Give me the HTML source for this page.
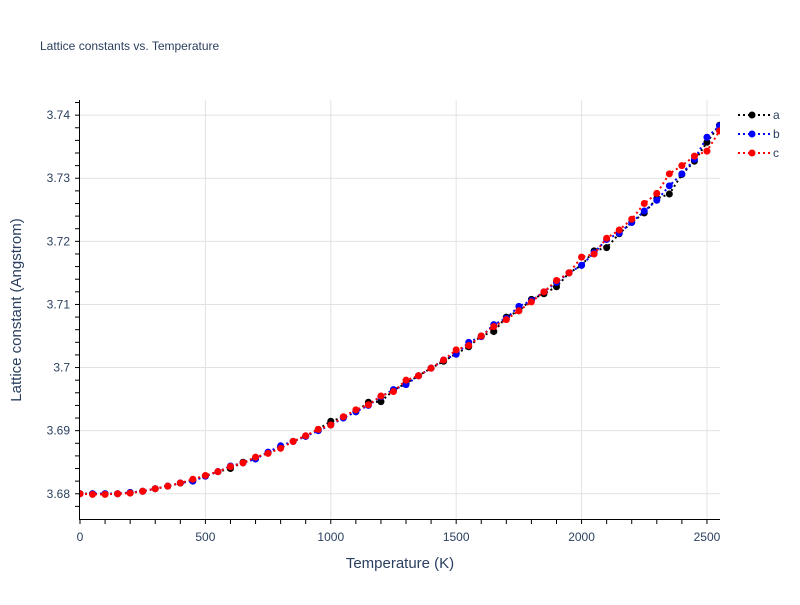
<!DOCTYPE html>
<html><head><meta charset="utf-8"><style>
body{margin:0;background:#fff;}
svg{font-family:"Liberation Sans",Arial,sans-serif;}
</style></head><body>
<svg id="chart" width="800" height="600">
<rect width="800" height="600" fill="#fff"/>
<text x="40" y="50" font-size="12" fill="#2a3f5f">Lattice constants vs. Temperature</text>
<g id="grid"></g>
<g id="axes"></g>
<g id="series"></g>
<g id="legend"></g>
<text x="400" y="568" font-size="15" fill="#2a3f5f" text-anchor="middle">Temperature (K)</text>
<text transform="translate(21,310) rotate(-90)" font-size="15" fill="#2a3f5f" text-anchor="middle">Lattice constant (Angstrom)</text>
</svg>
<script>
const temps = [0,50,100,150,200,250,300,350,400,450,500,550,600,650,700,750,800,850,900,950,1000,1050,1100,1150,1200,1250,1300,1350,1400,1450,1500,1550,1600,1650,1700,1750,1800,1850,1900,1950,2000,2050,2100,2150,2200,2250,2300,2350,2400,2450,2500,2550];
const seriesA = [3.6800,3.6800,3.6800,3.6800,3.6802,3.6804,3.6808,3.6812,3.6817,3.6821,3.6828,3.6835,3.6840,3.6850,3.6856,3.6865,3.6874,3.6883,3.6891,3.6902,3.6915,3.6921,3.6930,3.6945,3.6946,3.6964,3.6975,3.6987,3.6999,3.7010,3.7022,3.7033,3.7050,3.7057,3.7080,3.7090,3.7108,3.7117,3.7128,3.7150,3.7162,3.7185,3.7190,3.7212,3.7230,3.7245,3.7268,3.7275,3.7306,3.7327,3.7357,3.7384];
const seriesB = [3.6800,3.6800,3.6800,3.6800,3.6802,3.6804,3.6808,3.6812,3.6817,3.6820,3.6828,3.6835,3.6844,3.6849,3.6855,3.6866,3.6876,3.6883,3.6891,3.6900,3.6909,3.6920,3.6930,3.6940,3.6954,3.6965,3.6973,3.6987,3.6999,3.7012,3.7021,3.7040,3.7049,3.7068,3.7078,3.7097,3.7106,3.7120,3.7135,3.7150,3.7162,3.7182,3.7203,3.7213,3.7230,3.7248,3.7265,3.7288,3.7307,3.7330,3.7365,3.7383];
const seriesC = [3.6800,3.6799,3.6799,3.6800,3.6801,3.6804,3.6808,3.6812,3.6817,3.6823,3.6829,3.6835,3.6843,3.6849,3.6858,3.6864,3.6872,3.6883,3.6892,3.6902,3.6909,3.6922,3.6933,3.6941,3.6955,3.6962,3.6980,3.6987,3.6999,3.7012,3.7028,3.7035,3.7050,3.7065,3.7076,3.7090,3.7104,3.7120,3.7138,3.7150,3.7175,3.7180,3.7205,3.7218,3.7235,3.7260,3.7276,3.7307,3.7320,3.7335,3.7343,3.7375];
const xTicks = [0,500,1000,1500,2000,2500];
const yTicks = [3.68,3.69,3.70,3.71,3.72,3.73,3.74];
const yTickLabels = ["3.68","3.69","3.7","3.71","3.72","3.73","3.74"];
const seriesNames = ["a","b","c"];
const seriesColors = ["#000000","#0000ff","#ff0000"];

const NS="http://www.w3.org/2000/svg";
const L=80,R=720,T=100,B=519;
const X0=0,X1=2552,Y0=3.6760,Y1=3.7424;
const sx=v=>L+(v-X0)/(X1-X0)*(R-L);
const sy=v=>B-(v-Y0)/(Y1-Y0)*(B-T);
function mk(tag,attrs,parent){const e=document.createElementNS(NS,tag);for(const k in attrs)e.setAttribute(k,attrs[k]);parent.appendChild(e);return e;}
const grid=document.getElementById('grid'),axes=document.getElementById('axes'),ser=document.getElementById('series'),leg=document.getElementById('legend');

xTicks.forEach(t=>{
  if(t>0){const g=mk('line',{x1:sx(t),x2:sx(t),y1:T,y2:B,stroke:'#e2e2e2','stroke-width':1},grid);
  
  }
  const lb=mk('text',{x:sx(t),y:541,'font-size':12,fill:'#2a3f5f','text-anchor':'middle'},axes);
  lb.textContent=t;
  
  
});
for(let t=0;t<=2500;t+=100){mk('line',{x1:sx(t),x2:sx(t),y1:B,y2:B+5,stroke:'#000','stroke-width':1},axes);}
yTicks.forEach((t,i)=>{
  const g=mk('line',{x1:L,x2:R,y1:sy(t),y2:sy(t),stroke:'#e2e2e2','stroke-width':1},grid);
  
  
  const lb=mk('text',{x:70,y:sy(t)+4,'font-size':12,fill:'#2a3f5f','text-anchor':'end'},axes);
  lb.textContent=yTickLabels[i];
  
  
});
for(let k=0;k<=32;k++){const v=3.678+k*0.002;if(v>Y1)break;mk('line',{x1:L-5,x2:L,y1:sy(v),y2:sy(v),stroke:'#000','stroke-width':1},axes);}
const ya=mk('line',{x1:L-0.5,x2:L-0.5,y1:T,y2:B,stroke:'#000','stroke-width':1},axes);


const xa=mk('line',{x1:L-1,x2:R,y1:B+0.5,y2:B+0.5,stroke:'#000','stroke-width':1},axes);



const clip=mk('clipPath',{id:'cp'},mk('defs',{},ser));mk('rect',{x:L,y:T,width:R-L,height:B-T},clip);
const data=[seriesA,seriesB,seriesC];
data.forEach((vals,si)=>{
  const g=mk('g',{'clip-path':'url(#cp)'},ser);
  
  
  const pts=vals.map((v,i)=>sx(temps[i])+','+sy(v)).join(' ');
  mk('polyline',{points:pts,fill:'none',stroke:seriesColors[si],'stroke-width':2,'stroke-dasharray':'2,3'},g);
  vals.forEach((v,i)=>{const c=mk('circle',{cx:sx(temps[i]),cy:sy(v),r:3.5,fill:seriesColors[si]},g);
    
    });
  const y=115+si*19;
  const e=mk('g',{},leg);
  
  
  mk('line',{x1:738,x2:772,y1:y,y2:y,stroke:seriesColors[si],'stroke-width':2,'stroke-dasharray':'2,3'},e);
  mk('circle',{cx:752,cy:y,r:3.5,fill:seriesColors[si]},e);
  const t=mk('text',{x:773,y:y+4,'font-size':12,fill:'#2a3f5f'},e);t.textContent=seriesNames[si];
});
</script>
</body></html>
